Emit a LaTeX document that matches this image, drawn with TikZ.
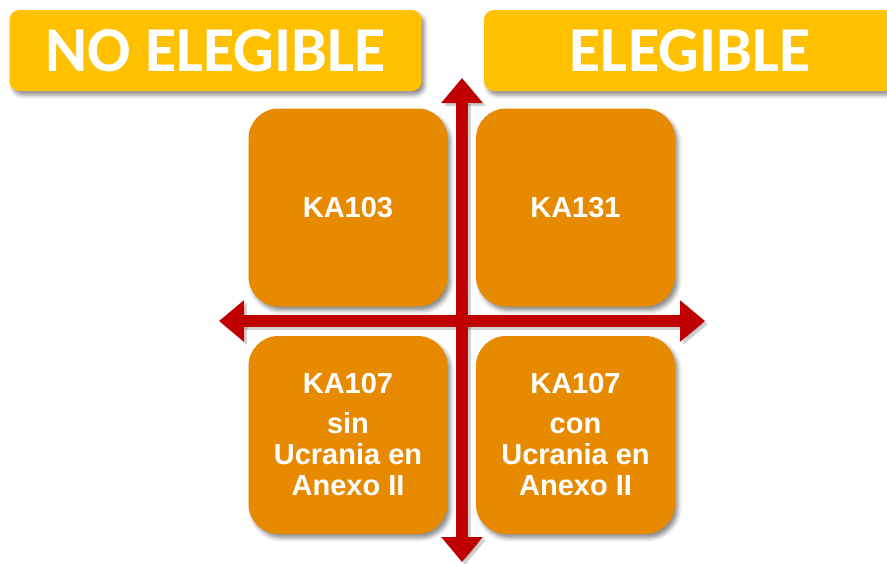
\documentclass[tikz,border=0pt]{standalone}
\usepackage{fontspec}
\setmainfont{Liberation Sans}
\newfontfamily\titlefont{Carlito}
\usetikzlibrary{arrows.meta,shadows.blur}
\definecolor{amarillo}{HTML}{FFC000}
\definecolor{naranja}{HTML}{E88A00}
\definecolor{rojo}{HTML}{C00000}

\begin{document}
\begin{tikzpicture}[x=1pt,y=-1pt,
    sombra/.style={blur shadow={shadow xshift=3pt,shadow yshift=-4pt,shadow blur radius=4pt,shadow opacity=45}},
    titulo/.style={fill=amarillo,rounded corners=10pt,minimum width=412pt,minimum height=81pt,
        text=white,font=\titlefont\bfseries\fontsize{64}{70}\selectfont,sombra},
    caja/.style={fill=naranja,rounded corners=30pt,minimum width=199pt,minimum height=198pt,
        text=white,align=center,font=\bfseries\fontsize{29}{31}\selectfont,sombra},
    flecha/.style={rojo,line width=12pt,{Triangle[width=40pt,length=25pt]}-{Triangle[width=40pt,length=25pt]}}]
    \useasboundingbox (0,0) rectangle (887,563);
    % titulos
    \node[titulo] (noeleg) at (215.5,50.5) {NO ELEGIBLE};
    \node[titulo] (eleg) at (690,50.5) {ELEGIBLE};
    % cuadrantes
    \node[caja] (ka103) at (348,207.5) {KA103};
    \node[caja] (ka131) at (575.5,207.5) {KA131};
    \node[caja] (ka107sin) at (348,435) {KA107\\[9pt] sin\\ Ucrania en\\ Anexo II};
    \node[caja] (ka107con) at (575.5,435) {KA107\\[9pt] con\\ Ucrania en\\ Anexo II};
    % ejes
    \coordinate (arriba) at (462,78);
    \coordinate (abajo) at (462,562);
    \coordinate (izq) at (219,321);
    \coordinate (der) at (705,321);
    \begin{scope}[transform canvas={shift={(3pt,-3pt)}}]
        \draw[flecha,draw=black,fill=black,opacity=0.18] (arriba) -- (abajo);
        \draw[flecha,draw=black,fill=black,opacity=0.18] (izq) -- (der);
    \end{scope}
    \draw[flecha] (arriba) -- (abajo);
    \draw[flecha] (izq) -- (der);
\end{tikzpicture}
\end{document}
